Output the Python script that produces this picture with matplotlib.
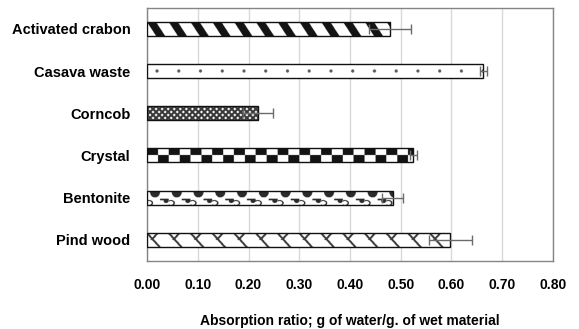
import numpy as np
import matplotlib
matplotlib.use("Agg")
import matplotlib.pyplot as plt

plt.rcParams['font.family'] = ['Liberation Sans', 'DejaVu Sans']
plt.rcParams['font.weight'] = 'bold'

# data
materials = ["Activated crabon", "Casava waste", "Corncob", "Crystal", "Bentonite", "Pind wood"]
absorption = [0.479, 0.663, 0.219, 0.525, 0.484, 0.598]
errors = [0.042, 0.007, 0.030, 0.007, 0.021, 0.043]
xticks = [0.0, 0.1, 0.2, 0.3, 0.4, 0.5, 0.6, 0.7, 0.8]

BAR_H = 0.332
PX_PER_UNIT = 507.5   # screen px per 1.0 on x
BAR_PX = 14.0         # bar height in px
OS = 3                # oversampling of the pattern images
P = 21.7              # pattern period in px


# pattern functions, u = px from bar start, v = px from bar top; 1 = ink
def stripes(u, v):
    return ((u - 0.65 * v) % P < 9).astype(float)

def dots(u, v):
    du = (u - 10) % P
    du = np.minimum(du, P - du)
    return 0.7 * ((du ** 2 + (v - 7) ** 2) < 1.6 ** 2)

def crosshatch(u, v):
    a = np.abs((u + v) % 6 - 3)
    b = np.abs((u - v) % 6 - 3)
    return 0.85 * ((a < 1.4) | (b < 1.4))

def checker(u, v):
    row = np.floor(v / 7).astype(int)
    col = np.floor(u / (P / 2)).astype(int)
    return ((row + col) % 2 == 0).astype(float)

def bento(u, v):
    uu = u % P
    top = ((uu - 8) / 5.0) ** 2 + ((v - 1) / 5.5) ** 2 < 1
    bot = ((uu - 19) / 2.5) ** 2 + ((v - 10) / 2.0) ** 2 < 1
    ring = np.abs(((uu - 2) / 3.5) ** 2 + ((v - 12) / 2.5) ** 2 - 1) < 0.4
    line = (np.abs(v - 8.5) < 0.7) & (uu > 13)
    return 0.9 * (top | bot | ring | line)

def zigzag(u, v):
    a = np.abs(((u - 0.9 * v) % P) - P / 2) > P / 2 - 1.3
    b = (np.abs(((u + 0.9 * v + 11) % P) - P / 2) > P / 2 - 1.3) & (v < 7)
    return 0.85 * (a | b)

patterns = [stripes, dots, crosshatch, checker, bento, zigzag]

fig = plt.figure(figsize=(5.79, 3.29), dpi=100)
ax = fig.add_axes([0.254, 0.207, 0.701, 0.769])

ypos = np.arange(len(materials))

ax.set_axisbelow(True)
ax.grid(axis='x', color='#d9d9d9', linewidth=1)

bars = ax.barh(ypos, absorption, height=BAR_H, color='white', edgecolor='none', zorder=2)

for bar, val, yc, pat in zip(bars, absorption, ypos, patterns):
    w = int(val * PX_PER_UNIT * OS)
    h = int(BAR_PX * OS)
    u = (np.arange(w) + 0.5) / OS
    v = (np.arange(h) + 0.5) / OS
    U, V = np.meshgrid(u, v)
    ink = pat(U, V)
    img = 1.0 - 0.92 * ink
    im = ax.imshow(img, cmap='gray', vmin=0, vmax=1, aspect='auto',
                   extent=(0, val, yc + BAR_H / 2, yc - BAR_H / 2),
                   origin='upper', interpolation='antialiased', zorder=3)
    im.set_clip_path(bar)

ax.barh(ypos, absorption, height=BAR_H, fill=False, edgecolor='#111111',
        linewidth=1.0, zorder=4)
ax.errorbar(absorption, ypos, xerr=errors, fmt='none', ecolor='#6b6b6b',
            elinewidth=1.0, capsize=3.5, capthick=1.0, zorder=5)

ax.set_xlim(0, 0.8)
ax.set_ylim(len(materials) - 0.5, -0.5)
ax.set_xticks(xticks)
ax.set_xticklabels([f"{t:.2f}" for t in xticks], fontsize=10, fontweight='bold')
ax.set_yticks(ypos)
ax.set_yticklabels(materials, fontsize=10.5, fontweight='bold')
ax.tick_params(axis='x', length=0, pad=12.5)
ax.tick_params(axis='y', length=0, pad=12)
ax.set_xlabel("Absorption ratio; g of water/g. of wet material",
              fontsize=10, fontweight='bold', labelpad=15.5)

for s in ax.spines.values():
    s.set_color('#858585')
    s.set_linewidth(1.0)

fig.savefig("out.png", dpi=100)
